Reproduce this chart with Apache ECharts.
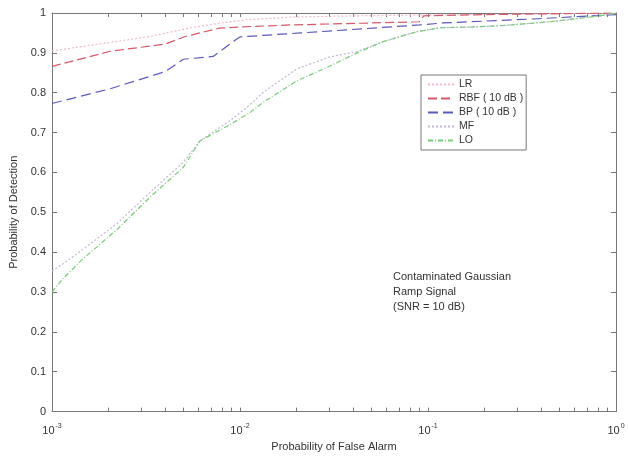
<!DOCTYPE html>
<html><head><meta charset="utf-8">
<script src="https://cdn.jsdelivr.net/npm/echarts@6/dist/echarts.min.js"></script>
<style>html,body{margin:0;padding:0;background:#fff}#c{width:628px;height:457px}</style>
</head><body><div id="c"></div>
<script>
// ---- data ----
const seriesNames = ['LR', 'RBF ( 10 dB )', 'BP ( 10 dB )', 'MF', 'LO'];
const xTickValues = [0.001, 0.01, 0.1, 1];
const xMinorTicks = [0.001,0.002,0.003,0.004,0.005,0.006,0.007,0.008,0.009,0.01,0.02,0.03,0.04,0.05,0.06,0.07,0.08,0.09,0.1,0.2,0.3,0.4,0.5,0.6,0.7,0.8,0.9,1];
const yTickValues = [0,0.1,0.2,0.3,0.4,0.5,0.6,0.7,0.8,0.9,1];

const lrX = [0.001, 0.00203, 0.00331, 0.00549, 0.00791, 0.0107, 0.0194, 0.0426, 0.1, 0.3, 1];
const lrY = [0.905, 0.926, 0.941, 0.963, 0.975, 0.983, 0.99, 0.993, 0.995, 0.997, 1];

const rbfX = [0.001, 0.00204, 0.004, 0.0051, 0.0078, 0.01, 0.0185, 0.05, 0.09, 0.095, 0.2, 1];
const rbfY = [0.866, 0.904, 0.922, 0.941, 0.962, 0.965, 0.970, 0.975, 0.978, 0.993, 0.996, 1];

const bpX = [0.001, 0.00204, 0.004, 0.005, 0.0072, 0.0097, 0.01, 0.021, 0.09, 0.12, 0.36, 0.93, 1];
const bpY = [0.773, 0.81, 0.853, 0.884, 0.891, 0.936, 0.94, 0.95, 0.97, 0.975, 0.985, 0.995, 0.996];

const mfX = [0.001, 0.00114, 0.00146, 0.00222, 0.00332, 0.00498, 0.00612, 0.00885, 0.0113, 0.0132, 0.0201, 0.0301, 0.0419, 0.0576, 0.0773, 0.0873, 0.1158, 0.1735, 0.2415, 0.4457, 0.822, 1];
const mfY = [0.353, 0.37, 0.407, 0.472, 0.55, 0.625, 0.679, 0.73, 0.77, 0.80, 0.86, 0.89, 0.903, 0.928, 0.946, 0.953, 0.963, 0.965, 0.968, 0.978, 0.993, 1];

const loX = [0.001, 0.00114, 0.00146, 0.00222, 0.00332, 0.00498, 0.00612, 0.00885, 0.0113, 0.0132, 0.0201, 0.0301, 0.0419, 0.0576, 0.0773, 0.0873, 0.1158, 0.1735, 0.2415, 0.4457, 0.822, 1];
const loY = [0.30, 0.333, 0.383, 0.457, 0.538, 0.612, 0.679, 0.72, 0.75, 0.775, 0.83, 0.867, 0.90, 0.928, 0.946, 0.953, 0.963, 0.965, 0.968, 0.978, 0.993, 1];

const annotationLines = ['Contaminated Gaussian', 'Ramp Signal', '(SNR = 10 dB)'];

// ---- chart ----
const pair = (xs, ys) => xs.map((x, i) => [x, ys[i]]);
const FONT = '"Liberation Sans", Arial, Helvetica, sans-serif';
const AX = '#777';
const TXT = '#333';

const styles = [
  {color: '#f2b8cc', type: [2, 2], width: 1.2},
  {color: '#d45a6a', type: [9, 4], width: 1.2},
  {color: '#5a5ab8', type: [10, 5], width: 1.2},
  {color: '#c4b6d6', type: [2, 2], width: 1.2},
  {color: '#78cc78', type: [5, 2, 1, 2], width: 1.2}
];
const datasets = [pair(lrX, lrY), pair(rbfX, rbfY), pair(bpX, bpY), pair(mfX, mfY), pair(loX, loY)];

const chart = echarts.init(document.getElementById('c'), null, {renderer: 'canvas'});
const xBase = {
  type: 'log', logBase: 10, min: 0.001, max: 1, gridIndex: 0,
  axisLine: {show: true, onZero: false, lineStyle: {color: AX, width: 1}},
  splitLine: {show: false},
  minorTick: {show: false}
};
const yBase = {
  type: 'value', min: 0, max: 1, interval: 0.1,
  axisLine: {show: true, onZero: false, lineStyle: {color: AX, width: 1}},
  splitLine: {show: false},
  axisTick: {show: true, inside: true, length: 5, lineStyle: {color: AX}}
};

chart.setOption({
  animation: false,
  backgroundColor: '#fff',
  grid: {left: 52, right: 12, top: 13, bottom: 39, containLabel: false},
  xAxis: [
    Object.assign({}, xBase, {
      position: 'bottom',
      name: 'Probability of False Alarm', nameLocation: 'middle', nameGap: 25,
      nameTextStyle: {color: TXT, fontFamily: FONT, fontSize: 11},
      axisTick: {show: true, inside: true, length: 4, customValues: xMinorTicks, lineStyle: {color: AX}},
      axisLabel: {
        show: true, margin: 11, customValues: xTickValues,
        formatter: function (v) { return '{b|10}{s|' + Math.round(Math.log10(v)) + '}'; },
        rich: {
          b: {fontFamily: FONT, fontSize: 11, color: TXT},
          s: {fontFamily: FONT, fontSize: 7, color: TXT, padding: [0, 0, 9, 1]}
        }
      }
    }),
    Object.assign({}, xBase, {
      position: 'top',
      axisTick: {show: true, inside: true, length: 4, customValues: xMinorTicks, lineStyle: {color: AX}},
      axisLabel: {show: false}
    })
  ],
  yAxis: [
    Object.assign({}, yBase, {
      position: 'left',
      name: 'Probability of Detection', nameLocation: 'middle', nameGap: 32, nameRotate: 90,
      nameTextStyle: {color: TXT, fontFamily: FONT, fontSize: 11},
      axisLabel: {show: true, margin: 6, color: TXT, fontFamily: FONT, fontSize: 11,
        customValues: yTickValues,
        formatter: function (v) { return String(Math.round(v * 10) / 10); }}
    }),
    Object.assign({}, yBase, {
      position: 'right',
      axisLabel: {show: false}
    })
  ],
  legend: {
    show: true, orient: 'vertical', left: 421, top: 75,
    padding: [4, 3, 4, 6],
    backgroundColor: '#fff',
    borderColor: '#777', borderWidth: 1,
    itemWidth: 26, itemHeight: 12, itemGap: 3,
    itemStyle: {opacity: 0, borderWidth: 0},
    textStyle: {fontFamily: FONT, fontSize: 10.5, color: TXT},
    data: seriesNames,
    z: 10
  },
  series: seriesNames.map((n, i) => ({
    name: n, type: 'line', xAxisIndex: 0, yAxisIndex: 0,
    data: datasets[i], showSymbol: false, symbol: 'none',
    lineStyle: styles[i], itemStyle: {color: styles[i].color},
    emphasis: {disabled: true}, z: 2
  })),
  graphic: annotationLines.map((t, i) => ({
    type: 'text', left: 393, top: 271 + i * 15,
    style: {text: t, fill: TXT, font: '11px ' + FONT}
  }))
});
</script>
</body></html>
